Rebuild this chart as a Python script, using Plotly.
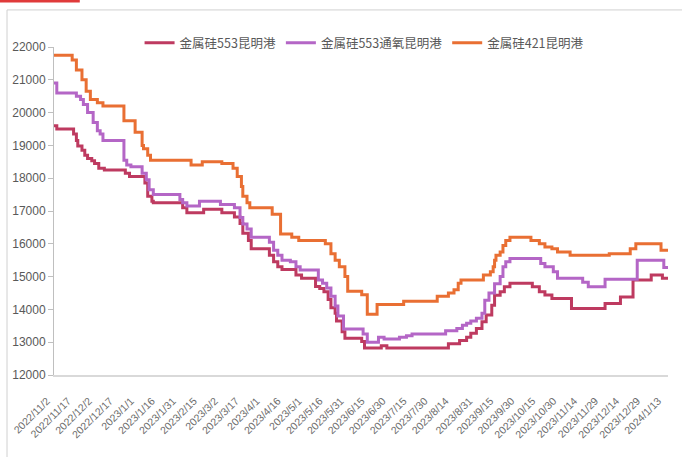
import pandas as pd
import plotly.graph_objects as go

# change points of each price series (yuan/ton), value holds until next date
SI553_DATES = [
    "2022-11-02", "2022-11-04", "2022-11-16", "2022-11-18", "2022-11-19", "2022-11-22",
    "2022-11-24", "2022-11-26", "2022-11-29", "2022-12-01", "2022-12-04", "2022-12-08",
    "2022-12-23", "2022-12-26", "2023-01-06", "2023-01-08", "2023-01-11", "2023-01-12",
    "2023-02-02", "2023-02-05", "2023-02-17", "2023-03-02", "2023-03-11", "2023-03-15",
    "2023-03-17", "2023-03-21", "2023-03-23", "2023-04-05", "2023-04-08", "2023-04-11",
    "2023-04-14", "2023-04-24", "2023-04-28", "2023-05-08", "2023-05-11", "2023-05-14",
    "2023-05-17", "2023-05-19", "2023-05-22", "2023-05-23", "2023-05-27", "2023-05-29",
    "2023-06-10", "2023-06-12", "2023-06-24", "2023-06-28", "2023-08-11", "2023-08-19",
    "2023-08-24", "2023-08-27", "2023-08-31", "2023-09-04", "2023-09-07", "2023-09-11",
    "2023-09-13", "2023-09-17", "2023-09-20", "2023-09-24", "2023-10-10", "2023-10-15",
    "2023-10-19", "2023-10-24", "2023-11-07", "2023-12-01", "2023-12-12", "2023-12-21",
    "2024-01-03", "2024-01-11", "2024-01-15",
]
SI553_VALUES = [
    19600, 19500, 19350, 19150, 18980, 18850,
    18700, 18600, 18530, 18450, 18300, 18250,
    18150, 18050, 17850, 17450, 17300, 17250,
    17100, 16950, 17050, 16950, 16820, 16620,
    16320, 16100, 15850, 15650, 15450, 15300,
    15220, 15050, 14950, 14700, 14640, 14540,
    14300, 14050, 13880, 13650, 13320, 13120,
    13020, 12820, 12890, 12820, 12950, 13050,
    13150, 13270, 13420, 13620, 13830, 14130,
    14430, 14540, 14690, 14800, 14690, 14540,
    14440, 14330, 14030, 14180, 14380, 14900,
    15050, 14950, 14950,
]

SI553O_DATES = [
    "2022-11-02", "2022-11-04", "2022-11-18", "2022-11-21", "2022-11-23", "2022-11-26",
    "2022-11-30", "2022-12-03", "2022-12-05", "2022-12-07", "2022-12-22", "2022-12-24",
    "2022-12-27", "2023-01-04", "2023-01-07", "2023-01-09", "2023-01-12", "2023-01-31",
    "2023-02-02", "2023-02-05", "2023-02-14", "2023-03-01", "2023-03-11", "2023-03-15",
    "2023-03-17", "2023-03-20", "2023-03-23", "2023-04-05", "2023-04-08", "2023-04-11",
    "2023-04-14", "2023-04-20", "2023-04-24", "2023-04-27", "2023-05-10", "2023-05-13",
    "2023-05-16", "2023-05-19", "2023-05-22", "2023-05-24", "2023-05-28", "2023-06-11",
    "2023-06-14", "2023-06-22", "2023-06-26", "2023-07-07", "2023-07-12", "2023-07-16",
    "2023-08-09", "2023-08-17", "2023-08-21", "2023-08-24", "2023-08-27", "2023-08-31",
    "2023-09-04", "2023-09-06", "2023-09-09", "2023-09-13", "2023-09-17", "2023-09-19",
    "2023-09-21", "2023-09-24", "2023-10-16", "2023-10-19", "2023-10-25", "2023-10-28",
    "2023-11-15", "2023-11-19", "2023-12-01", "2023-12-24", "2024-01-12", "2024-01-15",
]
SI553O_VALUES = [
    20900, 20600, 20500, 20400, 20250, 20000,
    19700, 19450, 19350, 19150, 18550, 18400,
    18350, 18150, 17950, 17650, 17500, 17350,
    17250, 17150, 17300, 17200, 17100, 16800,
    16600, 16450, 16200, 16050, 15800, 15650,
    15500, 15450, 15300, 15200, 14900, 14800,
    14650, 14400, 14100, 13800, 13400, 13250,
    13000, 13150, 13100, 13150, 13200, 13250,
    13350, 13420, 13520, 13580, 13650, 13730,
    13880, 14280, 14500, 14780, 15000, 15300,
    15450, 15550, 15400, 15300, 15150, 14950,
    14830, 14690, 14920, 15500, 15280, 15280,
]

SI421_DATES = [
    "2022-11-02", "2022-11-15", "2022-11-18", "2022-11-22", "2022-11-25", "2022-11-28",
    "2022-12-03", "2022-12-07", "2022-12-22", "2022-12-30", "2023-01-04", "2023-01-05",
    "2023-01-08", "2023-01-10", "2023-02-08", "2023-02-16", "2023-03-02", "2023-03-10",
    "2023-03-13", "2023-03-16", "2023-03-17", "2023-03-20", "2023-03-22", "2023-04-07",
    "2023-04-13", "2023-04-21", "2023-04-26", "2023-05-15", "2023-05-19", "2023-05-22",
    "2023-05-25", "2023-05-29", "2023-05-31", "2023-06-10", "2023-06-14", "2023-06-21",
    "2023-07-10", "2023-08-03", "2023-08-11", "2023-08-15", "2023-08-18", "2023-08-20",
    "2023-09-05", "2023-09-10", "2023-09-12", "2023-09-13", "2023-09-14", "2023-09-17",
    "2023-09-19", "2023-09-21", "2023-09-24", "2023-10-09", "2023-10-15", "2023-10-19",
    "2023-10-24", "2023-10-28", "2023-11-06", "2023-12-04", "2023-12-19", "2023-12-23",
    "2024-01-10", "2024-01-15",
]
SI421_VALUES = [
    21750, 21600, 21300, 21000, 20650, 20400,
    20300, 20200, 19750, 19400, 19000, 18900,
    18700, 18550, 18400, 18500, 18450, 18300,
    18050, 17750, 17450, 17250, 17100, 16900,
    16300, 16200, 16100, 16000, 15700, 15500,
    15300, 15000, 14550, 14450, 13850, 14150,
    14250, 14400, 14500, 14600, 14800, 14900,
    15050, 15150, 15300, 15500, 15650, 15750,
    15950, 16100, 16200, 16100, 16000, 15900,
    15850, 15750, 15650, 15700, 15850, 16000,
    15800, 15800,
]

TICK_LABELS = [
    "2022/11/2", "2022/11/17", "2022/12/2", "2022/12/17", "2023/1/1", "2023/1/16",
    "2023/1/31", "2023/2/15", "2023/3/2", "2023/3/17", "2023/4/1", "2023/4/16",
    "2023/5/1", "2023/5/16", "2023/5/31", "2023/6/15", "2023/6/30", "2023/7/15",
    "2023/7/30", "2023/8/14", "2023/8/31", "2023/9/15", "2023/9/30", "2023/10/15",
    "2023/10/30", "2023/11/14", "2023/11/29", "2023/12/14", "2023/12/29", "2024/1/13",
]

SERIES = [
    ("金属硅553昆明港", SI553_DATES, SI553_VALUES, "#BE3A60"),
    ("金属硅553通氧昆明港", SI553O_DATES, SI553O_VALUES, "#B466C6"),
    ("金属硅421昆明港", SI421_DATES, SI421_VALUES, "#E96F33"),
]

fig = go.Figure()
for name, dates, vals, color in SERIES:
    fig.add_trace(go.Scatter(
        x=pd.to_datetime(dates), y=vals, name=name, mode="lines",
        line=dict(color=color, width=3, shape="hv"),
    ))

tickvals = pd.to_datetime(TICK_LABELS, format="%Y/%m/%d")

fig.update_layout(
    width=682, height=457,
    template="plotly_white",
    plot_bgcolor="white", paper_bgcolor="white",
    margin=dict(l=54, r=14, t=47, b=82),
    font=dict(family="Liberation Sans, Arial, sans-serif", size=12, color="#595959"),
    legend=dict(
        orientation="h", x=0.505, xanchor="center", y=1.012, yanchor="middle",
        font=dict(family="Noto Sans CJK SC", size=12.5, color="#595959"),
        bgcolor="rgba(0,0,0,0)", itemwidth=30, tracegroupgap=0,
    ),
    xaxis=dict(
        type="date", range=["2022-11-02", "2024-01-15"],
        tickmode="array", tickvals=tickvals, ticktext=TICK_LABELS,
        tickangle=-45, tickfont=dict(size=10.5, color="#6b6b6b"),
        showgrid=False, zeroline=False, automargin=False,
        showline=True, linecolor="#d9d9d9", linewidth=1.5,
        ticks="", ticklabelstandoff=14, ticklabelshift=-7,
    ),
    yaxis=dict(
        range=[12000, 22000], dtick=1000, tickformat="d",
        showgrid=False, zeroline=False, automargin=False,
        showline=True, linecolor="#bfbfbf", linewidth=1,
        ticks="outside", ticklen=5, tickcolor="#bfbfbf",
        tickfont=dict(size=12, color="#595959"),
    ),
    shapes=[
        dict(type="rect", xref="paper", yref="paper",
             x0=-0.0765, x1=1.05, y0=-0.3, y1=1.113,
             line=dict(color="#d0d0d0", width=1)),
        dict(type="line", xref="paper", yref="paper",
             x0=-0.09, x1=0.042, y0=1.14, y1=1.14,
             line=dict(color="#E03A3A", width=3)),
    ],
)

# the page's default body margin would push the chart 8px off the corner
fig.write_html("out.html", config={"displayModeBar": False},
               post_script="document.body.style.margin='0';")
